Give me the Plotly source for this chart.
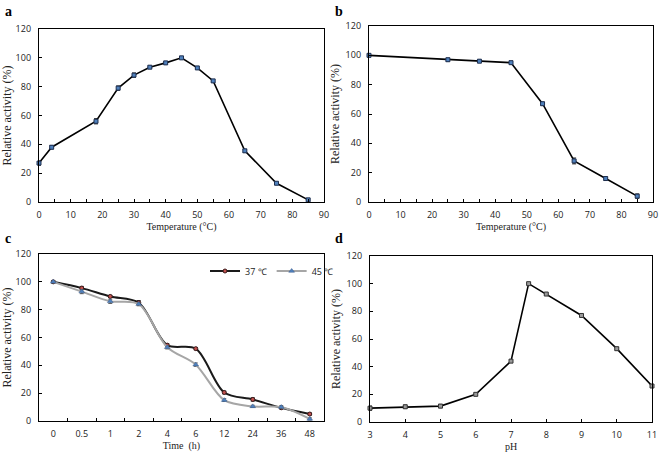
import plotly.graph_objects as go

# ---- data ----
temp_a = [0, 4, 18, 25, 30, 35, 40, 45, 50, 55, 65, 75, 85]
act_a = [27, 38, 56, 79, 88, 93.5, 96.5, 100, 93, 84, 35.5, 13, 1.5]
err_a = [1.5, 1.2, 1.8, 1.5, 1.5, 0.8, 0.8, 0.5, 0.8, 0.8, 1.0, 0.6, 0.6]

temp_b = [0, 25, 35, 45, 55, 65, 75, 85]
act_b = [100, 97, 96, 95, 67, 28, 16, 4]
err_b = [0.8, 1.0, 0.8, 0.5, 1.0, 2.0, 1.2, 1.5]

time_c = ["0", "0.5", "1", "2", "4", "6", "12", "24", "36", "48"]
act_37 = [100, 95.5, 89.5, 85, 54.5, 52, 20.5, 15.5, 9.5, 5]
err_37 = [0.8, 1.2, 0.8, 1.5, 1.0, 0.8, 1.0, 1.2, 0.8, 0.8]
act_45 = [100, 93, 86, 84, 53, 40.5, 15, 10.5, 10, 1.5]
err_45 = [0.8, 1.5, 1.5, 1.2, 1.2, 1.2, 1.0, 0.8, 1.0, 0.8]

ph_d = [3, 4, 5, 6, 7, 7.5, 8, 9, 10, 11]
act_d = [10, 11, 11.5, 20, 44, 100, 92.5, 77, 53, 26]
err_d = [1.5, 1.2, 1.2, 0.8, 0.8, 0.5, 0.5, 0.8, 0.8, 0.8]
ph_ticks = [3, 4, 5, 6, 7, 8, 9, 10, 11]

SANS = "Open Sans"
SERIF = "Liberation Serif"
MCOL = "#4f81bd"
MLINE = "#1f2f4f"

fig = go.Figure()

def eb(e, color="#222"):
    return dict(type="data", array=e, visible=True, color=color, thickness=1, width=2)

fig.add_trace(go.Scatter(x=temp_a, y=act_a, error_y=eb(err_a), mode="lines+markers",
                         line=dict(color="black", width=1.6), cliponaxis=False,
                         marker=dict(symbol="square", size=4, color=MCOL, line=dict(color=MLINE, width=1)),
                         xaxis="x", yaxis="y", showlegend=False))
fig.add_trace(go.Scatter(x=temp_b, y=act_b, error_y=eb(err_b), mode="lines+markers",
                         line=dict(color="black", width=1.6), cliponaxis=False,
                         marker=dict(symbol="square", size=4, color=MCOL, line=dict(color=MLINE, width=1)),
                         xaxis="x2", yaxis="y2", showlegend=False))
fig.add_trace(go.Scatter(x=time_c, y=act_37, error_y=eb(err_37), mode="lines+markers", name="37 ℃",
                         line=dict(color="#1a1a1a", width=2, shape="spline", smoothing=0.9), cliponaxis=False,
                         marker=dict(symbol="circle", size=4, color="#c0504d", line=dict(color="#3a1a1a", width=1)),
                         xaxis="x3", yaxis="y3"))
fig.add_trace(go.Scatter(x=time_c, y=act_45, error_y=eb(err_45, "#555"), mode="lines+markers", name="45 ℃",
                         line=dict(color="#a6a6a6", width=2, shape="spline", smoothing=0.9), cliponaxis=False,
                         marker=dict(symbol="triangle-up", size=5, color=MCOL, line=dict(color="#3a5a8a", width=0.5)),
                         xaxis="x3", yaxis="y3"))
fig.add_trace(go.Scatter(x=ph_d, y=act_d, error_y=eb(err_d), mode="lines+markers",
                         line=dict(color="black", width=1.6), cliponaxis=False,
                         marker=dict(symbol="square", size=4, color="#9a9a9a", line=dict(color="#333", width=1)),
                         xaxis="x4", yaxis="y4", showlegend=False))

W, H = 660, 458
def dx(a, b):
    return [a / W, b / W]
def dy(top, bot):
    return [1 - bot / H, 1 - top / H]

tickfont = dict(family=SANS, size=9, color="#222")
xtitlefont = dict(family=SERIF, size=10, color="#222")
ytitlefont = dict(family=SERIF, size=12, color="#222")

def xax(domain, anchor, title, **kw):
    d = dict(domain=domain, anchor=anchor, showline=True, linecolor="black", linewidth=1.3,
             mirror=True, ticks="inside", ticklen=3, tickcolor="black", showgrid=False,
             zeroline=False, tickfont=tickfont, ticklabelstandoff=4, automargin=False,
             title=dict(text=title, font=xtitlefont, standoff=3))
    d.update(kw)
    return d

def yax(domain, anchor):
    return dict(domain=domain, anchor=anchor, range=[0, 120], dtick=20, showline=True,
                linecolor="black", linewidth=1.3, mirror=True, ticks="inside", ticklen=3,
                tickcolor="black", showgrid=False, zeroline=False, tickfont=tickfont,
                ticklabelstandoff=5, automargin=False,
                title=dict(text="Relative activity (%)", font=ytitlefont, standoff=3))

minor5 = dict(dtick=5, ticks="inside", ticklen=3, tickcolor="black", showgrid=False)

fig.update_layout(
    width=W, height=H, margin=dict(l=0, r=0, t=0, b=0, autoexpand=False),
    paper_bgcolor="white", plot_bgcolor="white",
    xaxis=xax(dx(39, 324), "y", "Temperature (°C)", range=[0, 90], dtick=10, minor=minor5),
    yaxis=yax(dy(29, 202), "x"),
    xaxis2=xax(dx(369, 653), "y2", "Temperature (°C)", range=[0, 90], dtick=10, minor=minor5),
    yaxis2=yax(dy(26, 202), "x2"),
    xaxis3=xax(dx(39, 324), "y3", "Time  (h)", type="category", range=[-0.5, 9.5],
               tickson="boundaries"),
    yaxis3=yax(dy(254, 421), "x3"),
    xaxis4=xax(dx(370, 652), "y4", "pH", range=[3, 11], tickmode="array",
               tickvals=ph_ticks, ticktext=[str(v) for v in ph_ticks]),
    yaxis4=yax(dy(256, 422), "x4"),
    legend=dict(orientation="h", x=205 / W, y=1 - 271 / H, xanchor="left", yanchor="middle",
                font=dict(family=SANS, size=9, color="#222"), bgcolor="rgba(0,0,0,0)",
                itemwidth=30, tracegroupgap=0),
    showlegend=True,
)

for lab, x, y in [("a", 3, 11), ("b", 333, 11), ("c", 3, 238), ("d", 333, 238)]:
    fig.add_annotation(text="<b>%s</b>" % lab, x=x / W, y=1 - y / H, xref="paper", yref="paper",
                       xanchor="left", yanchor="middle", showarrow=False,
                       font=dict(family=SERIF, size=14, color="black"))

fig.write_html("out.html", config={"displayModeBar": False},
               post_script="document.body.style.margin='0';document.body.style.overflow='hidden';")
